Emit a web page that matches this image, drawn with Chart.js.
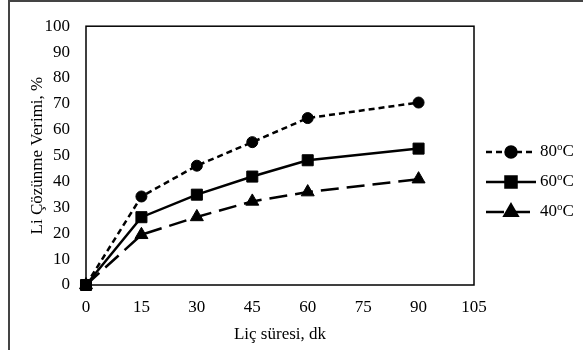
<!DOCTYPE html>
<html>
<head>
<meta charset="utf-8">
<script src="https://cdn.jsdelivr.net/npm/chart.js@4/dist/chart.umd.min.js"></script>
<style>
  body { margin: 0; background: #fff; }
  #wrap { position: relative; width: 583px; height: 350px; }
  #frame { position: absolute; left: 8px; top: 0; right: 0; bottom: 0;
           border-left: 2px solid #444; border-top: 2px solid #444; pointer-events: none; }
</style>
</head>
<body>
<div id="wrap">
  <canvas id="verim" width="583" height="350"></canvas>
  <div id="frame"></div>
</div>
<script>
  // leaching time, minutes
  var times = [0, 15, 30, 45, 60, 90];
  var temps = ["80", "60", "40"];
  var verim80 = [0, 34.2, 46.1, 55.2, 64.5, 70.5];
  var verim60 = [0, 26.2, 34.9, 41.9, 48.2, 52.7];
  var verim40 = [0, 19.4, 26.3, 32.3, 35.9, 40.9];
  var xTicks = [0, 15, 30, 45, 60, 75, 90, 105];

  var serif = "'Liberation Serif', 'Times New Roman', serif";

  function pts(values) {
    return times.map(function (t, i) { return { x: t, y: values[i] }; });
  }

  function series(label, values, style, radius, dash, order) {
    return {
      label: label,
      data: pts(values),
      borderColor: "#000",
      backgroundColor: "#000",
      borderWidth: 2.5,
      borderDash: dash,
      pointStyle: style,
      pointRadius: radius,
      pointBorderWidth: 1,
      fill: false,
      tension: 0,
      clip: false,
      order: order
    };
  }

  // frame around the plot area and a hand-drawn legend with line samples
  var frameAndLegend = {
    id: "frameAndLegend",
    afterDatasetsDraw: function (chart) {
      var ctx = chart.ctx;
      var a = chart.chartArea;
      ctx.save();
      ctx.strokeStyle = "#000";
      ctx.lineWidth = 1.5;
      ctx.strokeRect(a.left, a.top, a.right - a.left, a.bottom - a.top);

      var rows = [152, 182, 212];
      chart.data.datasets.forEach(function (ds, i) {
        var y = rows[i];
        ctx.strokeStyle = "#000";
        ctx.lineWidth = 2.5;
        ctx.setLineDash(ds.borderDash);
        ctx.beginPath();
        ctx.moveTo(486, y);
        ctx.lineTo(536, y);
        ctx.stroke();
        ctx.setLineDash([]);
        Chart.helpers.drawPoint(ctx, { pointStyle: ds.pointStyle, radius: ds.pointRadius, borderWidth: 1 }, 511, y);
        ctx.fill();

        ctx.fillStyle = "#000";
        ctx.textBaseline = "middle";
        ctx.font = "17px " + serif;
        var tx = 540;
        ctx.fillText(temps[i], tx, y);
        tx += ctx.measureText(temps[i]).width;
        ctx.font = "11px " + serif;
        ctx.fillText("o", tx, y - 5);
        tx += ctx.measureText("o").width;
        ctx.font = "17px " + serif;
        ctx.fillText("C", tx, y);
      });
      ctx.restore();
    }
  };

  new Chart("verim", {
    type: "line",
    data: {
      datasets: [
        series("80°C", verim80, "circle", 5.5, [6, 4], 1),
        series("60°C", verim60, "rect", 7.8, [], 0),
        series("40°C", verim40, "triangle", 7.5, [18, 8], 2)
      ]
    },
    options: {
      responsive: false,
      animation: false,
      layout: { padding: { left: 10, right: 109, top: 18, bottom: 0 } },
      plugins: { legend: { display: false }, tooltip: { enabled: false } },
      scales: {
        x: {
          type: "linear",
          min: 0,
          max: 105,
          afterBuildTicks: function (s) { s.ticks = xTicks.map(function (v) { return { value: v }; }); },
          afterFit: function (s) { s.height = 65; },
          grid: { display: false, drawTicks: false },
          border: { display: false },
          ticks: { color: "#000", font: { family: serif, size: 17 }, padding: 12, autoSkip: false, maxRotation: 0 },
          title: { display: true, text: "Liç süresi, dk", color: "#000", font: { family: serif, size: 17 }, padding: { top: 0, bottom: 5 } }
        },
        y: {
          min: 0,
          max: 100,
          afterFit: function (s) { s.width = 76; },
          grid: { display: false, drawTicks: false },
          border: { display: false },
          ticks: { stepSize: 10, color: "#000", font: { family: serif, size: 17 }, padding: 16 },
          title: { display: true, text: "Li Çözünme Verimi, %", color: "#000", font: { family: serif, size: 17 }, padding: { top: 17, bottom: 0 } }
        }
      }
    },
    plugins: [frameAndLegend]
  });
</script>
</body>
</html>
